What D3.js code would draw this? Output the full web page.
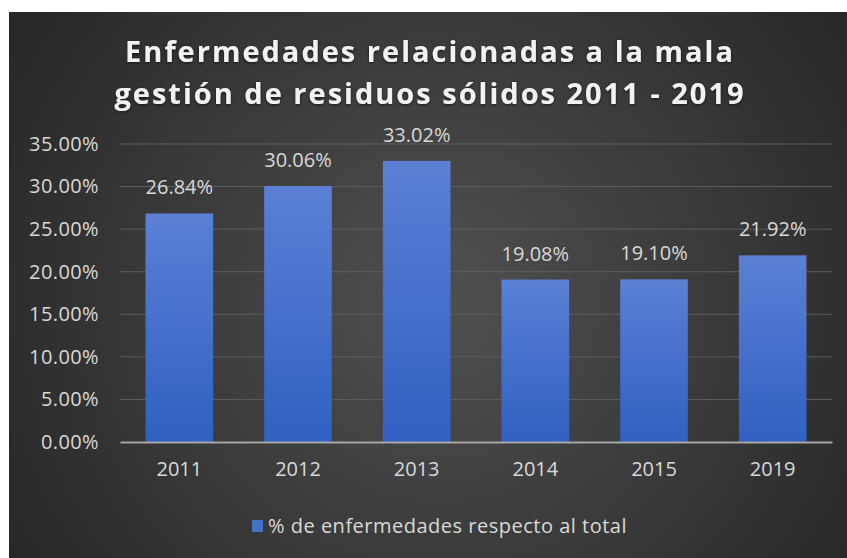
<!DOCTYPE html>
<html lang="es">
    <head>
        <meta charset="utf-8">
        <script src="https://d3js.org/d3.v7.min.js"></script>
        <title>Enfermedades residuos sólidos</title>
        <style>
            body { margin: 0; background: #fff; }
            text { font-family: "Open Sans", sans-serif; }
        </style>
    </head>
    <body>
        <div id="plot-div"></div>
        <script>
            const years = ['2011', '2012', '2013', '2014', '2015', '2019']
            const values = [26.84, 30.06, 33.02, 19.08, 19.10, 21.92]
            const yTicks = [0, 5, 10, 15, 20, 25, 30, 35]
            const titleLines = ['Enfermedades relacionadas a la mala', 'gestión de residuos sólidos 2011 - 2019']
            const seriesName = '% de enfermedades respecto al total'

            const width = 847
            const height = 558
            const margin = { top: 144, left: 120, right: 15, bottom: 116 }
            const textColor = '#d9d9d9'
            const labelFont = '"Open Sans", sans-serif'

            let svg = d3.select('#plot-div')
                .append('svg')
                .attr('width', width)
                .attr('height', height)

            let defs = svg.append('defs')
            let bg = defs.append('radialGradient')
                .attr('id', 'bg-grad')
                .attr('gradientUnits', 'userSpaceOnUse')
                .attr('cx', 440).attr('cy', 300).attr('r', 520)
            bg.append('stop').attr('offset', '0%').attr('stop-color', '#505050')
            bg.append('stop').attr('offset', '100%').attr('stop-color', '#262626')

            let barGrad = defs.append('linearGradient')
                .attr('id', 'bar-grad')
                .attr('x1', 0).attr('y1', 0).attr('x2', 0).attr('y2', 1)
            barGrad.append('stop').attr('offset', '0%').attr('stop-color', '#5b80d4')
            barGrad.append('stop').attr('offset', '100%').attr('stop-color', '#3060c2')

            let shadow = defs.append('filter').attr('id', 'title-shadow')
            shadow.append('feDropShadow')
                .attr('dx', 0).attr('dy', 1).attr('stdDeviation', 1.5)
                .attr('flood-color', '#000').attr('flood-opacity', 0.6)

            // chart area background
            svg.append('rect')
                .attr('x', 9).attr('y', 12)
                .attr('width', width - 9).attr('height', height - 12)
                .attr('fill', 'url(#bg-grad)')

            let xScale = d3.scaleBand()
                .domain(years)
                .range([margin.left, width - margin.right])
                .paddingInner(0.43)
                .paddingOuter(0.215)

            let yScale = d3.scaleLinear()
                .domain([0, 35])
                .range([height - margin.bottom, margin.top])

            // title
            svg.append('g')
                .selectAll('text')
                .data(titleLines)
                .join('text')
                .attr('x', 430)
                .attr('y', (d, i) => 62 + i * 42)
                .attr('text-anchor', 'middle')
                .attr('fill', '#f2f2f2')
                .attr('font-family', 'Lato, sans-serif')
                .attr('font-size', 29)
                .attr('font-weight', 'bold')
                .attr('letter-spacing', 2.0)
                .attr('filter', 'url(#title-shadow)')
                .text(d => d)

            // gridlines
            svg.append('g')
                .selectAll('line')
                .data(yTicks.filter(t => t > 0))
                .join('line')
                .attr('x1', margin.left)
                .attr('x2', width - margin.right)
                .attr('y1', d => yScale(d))
                .attr('y2', d => yScale(d))
                .attr('stroke', '#5e5e5e')
                .attr('stroke-width', 1)

            // y axis labels
            svg.append('g')
                .attr('transform', `translate(${margin.left - 18},0)`)
                .call(d3.axisLeft(yScale).tickValues(yTicks).tickSize(0).tickFormat(d => d.toFixed(2) + '%'))
                .call(g => g.select('.domain').remove())
                .call(g => g.selectAll('text')
                    .attr('fill', textColor)
                    .attr('font-size', 20)
                    .attr('letter-spacing', 0.4)
                    .attr('font-family', labelFont))

            // bars
            svg.append('g')
                .selectAll('rect')
                .data(values)
                .join('rect')
                .attr('x', (d, i) => xScale(years[i]))
                .attr('y', d => yScale(d))
                .attr('width', xScale.bandwidth())
                .attr('height', d => yScale(0) - yScale(d))
                .attr('fill', 'url(#bar-grad)')

            // value labels
            svg.append('g')
                .selectAll('text')
                .data(values)
                .join('text')
                .attr('x', (d, i) => xScale(years[i]) + xScale.bandwidth() / 2)
                .attr('y', d => yScale(d) - 19)
                .attr('text-anchor', 'middle')
                .attr('fill', textColor)
                .attr('font-size', 20)
                .text(d => d.toFixed(2) + '%')

            // x axis
            svg.append('g')
                .attr('transform', `translate(0,${yScale(0)})`)
                .call(d3.axisBottom(xScale).tickSize(0).tickPadding(20))
                .call(g => g.select('.domain')
                    .attr('stroke', '#a6a6a6')
                    .attr('stroke-width', 2))
                .call(g => g.selectAll('text')
                    .attr('fill', textColor)
                    .attr('font-size', 20)
                    .attr('font-family', labelFont))

            // legend
            let legend = svg.append('g')
                .attr('transform', 'translate(252,526)')
            legend.append('rect')
                .attr('x', 0).attr('y', -6)
                .attr('width', 11).attr('height', 12)
                .attr('fill', '#4472c4')
            legend.append('text')
                .attr('x', 16)
                .attr('y', 0)
                .attr('dy', '0.35em')
                .attr('fill', textColor)
                .attr('font-size', 20)
                .attr('letter-spacing', 0.5)
                .text(seriesName)
        </script>
    </body>
</html>
